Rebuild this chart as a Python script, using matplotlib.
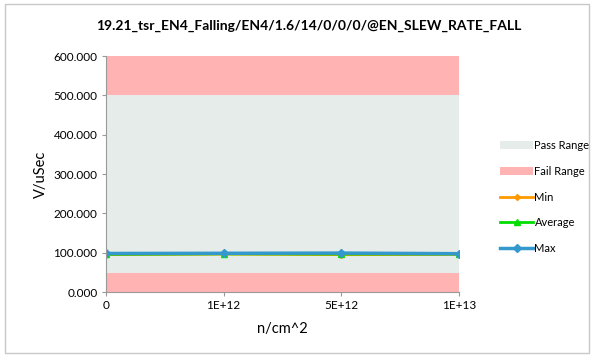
import numpy as np
import matplotlib.pyplot as plt
from matplotlib.patches import Rectangle

# data
categories = ["0", "1E+12", "5E+12", "1E+13"]
pass_low = 48.0
pass_high = 500.0
y_top = 600.0
min_vals = [95.0, 96.5, 95.0, 95.5]
avg_vals = [96.0, 97.0, 96.5, 96.5]
max_vals = [98.0, 98.5, 99.0, 97.5]

plt.rcParams['font.family'] = ['Lato', 'DejaVu Sans']

fig = plt.figure(figsize=(5.94, 3.57), dpi=100)
ax = fig.add_axes([0.178, 0.182, 0.595, 0.661])

x = np.arange(len(categories))
n = len(categories)
lo = [pass_low] * n
hi = [pass_high] * n
top = [y_top] * n
zero = [0] * n

ax.fill_between(x, zero, lo, color='#ffb3b3', lw=0)
ax.fill_between(x, lo, hi, color='#e6ecea', lw=0, label='Pass Range')
ax.fill_between(x, hi, top, color='#ffb3b3', lw=0, label='Fail Range')

ax.plot(x, min_vals, color='#ff9900', lw=2, marker='D', ms=3, label='Min')
ax.plot(x, avg_vals, color='#00dd00', lw=2, marker='^', ms=4, label='Average')
ax.plot(x, max_vals, color='#3399cc', lw=2.5, marker='D', ms=4, label='Max')

ax.set_xlim(0, n - 1)
ax.set_ylim(0, 600)
ax.set_yticks(np.arange(0, 601, 100))
ax.set_yticklabels([f"{v:.3f}" for v in np.arange(0, 601, 100)], fontsize=8.5)
ax.set_xticks(x)
ax.set_xticklabels(categories, fontsize=8.5)
ax.tick_params(axis='both', length=3, color='#999999', pad=3)
for s in ['top', 'right']:
    ax.spines[s].set_visible(False)
ax.spines['left'].set_color('#999999')
ax.spines['bottom'].set_color('#999999')

ax.set_xlabel("n/cm^2", fontsize=10.5, labelpad=8)
ax.set_ylabel("V/uSec", fontsize=10.5)
fig.text(0.52, 0.928, "19.21_tsr_EN4_Falling/EN4/1.6/14/0/0/0/@EN_SLEW_RATE_FALL",
         ha='center', va='center', fontsize=10, fontweight='bold')

handles, labels = ax.get_legend_handles_labels()
leg = fig.legend(handles, labels, loc='center left', bbox_to_anchor=(0.825, 0.448),
                 frameon=False, fontsize=8, handlelength=3, labelspacing=1.32,
                 handletextpad=0.1)

fig.patches.append(Rectangle((0.008, 0.012), 0.983, 0.978, transform=fig.transFigure,
                             fill=False, edgecolor='#c8c8c8', lw=1))

fig.savefig("out.png", dpi=100)
